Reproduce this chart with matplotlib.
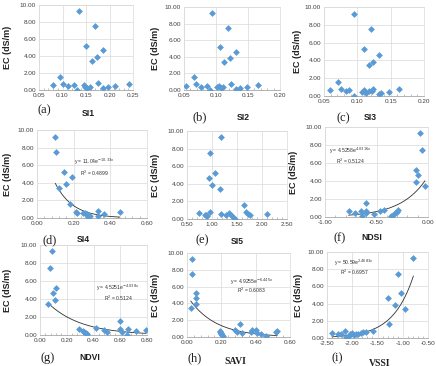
import numpy as np
import matplotlib
matplotlib.use("Agg")
import matplotlib.pyplot as plt
from matplotlib.ticker import FormatStrFormatter, MultipleLocator, AutoMinorLocator

plt.rcParams['axes.unicode_minus'] = False
plt.rcParams['font.family'] = ['Liberation Sans', 'DejaVu Sans']

# ---------------- data ----------------
si1_x = [0.135, 0.170, 0.150, 0.187, 0.174, 0.162, 0.0945, 0.079, 0.101, 0.112, 0.124,
         0.131, 0.146, 0.147, 0.152, 0.158, 0.176, 0.187, 0.197, 0.212, 0.241]
si1_y = [9.3, 7.5, 5.2, 4.67, 3.84, 3.45, 1.57, 0.59, 0.7, 0.43, 0.59,
         0.04, 0.59, 0.31, 0.24, 0.39, 0.82, 0.2, 0.31, 0.43, 0.7]

si2_x = [0.094, 0.118, 0.1055, 0.131, 0.122, 0.113, 0.065, 0.053, 0.069, 0.077, 0.086,
         0.091, 0.102, 0.104, 0.108, 0.111, 0.123, 0.131, 0.138, 0.148, 0.166]
si2_y = [9.28, 7.48, 5.2, 4.6, 3.8, 3.4, 1.52, 0.52, 0.68, 0.32, 0.48,
         0.0, 0.32, 0.52, 0.2, 0.4, 0.72, 0.12, 0.24, 0.32, 0.6]

si3_x = [0.095, 0.120, 0.110, 0.133, 0.124, 0.117, 0.071, 0.059, 0.075, 0.083, 0.088,
         0.095, 0.107, 0.110, 0.113, 0.118, 0.124, 0.122, 0.133, 0.136, 0.147, 0.163]
si3_y = [9.25, 7.52, 5.26, 4.62, 3.83, 3.46, 1.62, 0.68, 0.79, 0.53, 0.68,
         0.04, 0.49, 0.64, 0.3, 0.56, 0.83, 0.56, 0.23, 0.34, 0.45, 0.75]

si4_x = [0.10, 0.104, 0.146, 0.19, 0.16, 0.122, 0.179, 0.21, 0.217, 0.251, 0.27,
         0.26, 0.288, 0.275, 0.28, 0.33, 0.335, 0.364, 0.452]
si4_y = [9.25, 7.5, 5.2, 4.64, 3.85, 3.4, 1.58, 0.71, 0.57, 0.57, 0.45,
         0.55, 0.26, 0.35, 0.08, 0.26, 0.79, 0.45, 0.68]

si5_x = [1.17, 0.95, 1.05, 0.93, 1.0, 1.15, 1.63, 0.74, 0.86, 0.90, 0.88, 0.96,
         1.17, 1.27, 1.33, 1.38, 1.42, 1.46, 1.67, 1.72, 1.75, 2.10]
si5_y = [9.3, 7.5, 5.26, 4.62, 3.87, 3.42, 1.58, 0.68, 0.49, 0.3, 0.4, 0.79,
         0.6, 0.41, 0.68, 0.41, 0.18, 0.02, 0.79, 0.6, 0.41, 0.6]

ndsi_x = [-0.08, -0.06, -0.12, -0.10, -0.12, -0.03, -0.60, -0.77, -0.71, -0.655, -0.64,
          -0.60, -0.60, -0.52, -0.47, -0.43, -0.355, -0.34, -0.32, -0.30, -0.29]
ndsi_y = [9.3, 7.5, 5.26, 4.62, 3.87, 3.42, 1.58, 0.62, 0.44, 0.7, 0.07,
          0.5, 0.65, 0.3, 0.62, 0.8, 0.15, 0.26, 0.4, 0.55, 0.73]

ndvi_x = [0.092, 0.075, 0.12, 0.10, 0.115, 0.062, 0.60, 0.29, 0.32, 0.33, 0.345,
          0.35, 0.42, 0.48, 0.50, 0.60, 0.61, 0.65, 0.66, 0.72, 0.79]
ndvi_y = [9.3, 7.5, 5.26, 4.62, 3.87, 3.42, 1.58, 0.65, 0.5, 0.35, 0.2,
          0.12, 0.8, 0.55, 0.3, 0.65, 0.3, 0.05, 0.7, 0.45, 0.55]

savi_x = [0.031, 0.031, 0.055, 0.055, 0.055, 0.022, 0.31, 0.19, 0.195, 0.20, 0.205,
          0.21, 0.20, 0.28, 0.29, 0.32, 0.37, 0.38, 0.40, 0.41, 0.43, 0.46, 0.52, 0.525]
savi_y = [9.3, 7.5, 5.26, 4.62, 3.87, 3.42, 1.58, 0.75, 0.55, 0.35, 0.2,
          0.1, 0.45, 0.87, 0.65, 0.48, 0.56, 0.79, 0.87, 0.45, 0.3, 0.08, 0.55, 0.7]

vssi_x = [-0.79, -1.10, -1.03, -1.29, -1.16, -0.955, -1.28, -1.58, -2.40, -2.28, -2.22,
          -2.15, -2.12, -2.06, -2.04, -2.00, -1.97, -1.92, -1.88, -1.83, -1.78, -1.72]
vssi_y = [9.3, 7.5, 5.26, 4.62, 3.87, 3.42, 1.58, 0.8, 0.62, 0.43, 0.5,
          0.85, 0.08, 0.19, 0.43, 0.58, 0.31, 0.47, 0.5, 0.58, 0.66, 0.66]

x_names = ["SI1", "SI2", "SI3", "SI4", "SI5", "NDSI", "NDVI", "SAVI", "VSSI"]
letters = ["(a)", "(b)", "(c)", "(d)", "(e)", "(f)", "(g)", "(h)", "(i)"]
x_limits = [(0.05, 0.25), (0.05, 0.20), (0.05, 0.20), (0.0, 0.6), (0.5, 2.5),
            (-1.0, 0.0), (0.0, 0.8), (0.0, 0.6), (-2.5, -0.5)]
x_steps = [0.05, 0.05, 0.05, 0.2, 0.5, 0.5, 0.2, 0.2, 0.5]

# exponential trend lines: y = a*exp(b*x)
fit_a = {3: 11.04, 5: 4.5258, 6: 4.5251, 7: 4.9255, 8: 50.59}
fit_b = {3: -10.33, 5: 4.0316, 6: -4.038, 7: -6.445, 8: 2.4683}
eq_text = {3: "y = 11.04e$^{-10.33x}$", 5: "y = 4.5258e$^{4.0316x}$",
           6: "y = 4.5251e$^{-4.038x}$", 7: "y = 4.9255e$^{-6.445x}$",
           8: "y = 50.59e$^{2.4683x}$"}
r2_text = {3: "R$^2$ = 0.4899", 5: "R$^2$ = 0.5124", 6: "R$^2$ = 0.5124",
           7: "R$^2$ = 0.6083", 8: "R$^2$ = 0.6957"}

xs = [si1_x, si2_x, si3_x, si4_x, si5_x, ndsi_x, ndvi_x, savi_x, vssi_x]
ys = [si1_y, si2_y, si3_y, si4_y, si5_y, ndsi_y, ndvi_y, savi_y, vssi_y]

# ---------------- layout (pixel boxes) ----------------
W, H = 436, 366
boxes = [(39, 5, 133, 90), (184, 7, 280, 90), (324, 7, 424, 96),
         (37, 130, 147, 218), (187, 131, 287, 219), (325, 127, 428, 217),
         (40, 245, 147, 335), (187, 253, 290, 337), (327, 252, 428, 338)]
ylab_x = [8, 155, 297, 8, 155, 293, 8, 155, 298]
letter_pos = [(44, 110), (200, 117), (343, 118), (50, 240), (202, 240), (340, 238),
              (48, 358), (195, 358), (337, 358)]
xlab_pos = [(88, 113), (243, 117), (370, 117), (83, 240), (237, 242), (372, 238),
            (90, 358), (235, 362), (380, 363)]
eq_pos = {3: (0.52, 0.64, 0.51), 5: (0.25, 0.73, 0.62), 6: (0.73, 0.52, 0.41),
          7: (0.63, 0.66, 0.55), 8: (0.27, 0.87, 0.76)}

fig = plt.figure(figsize=(W / 100, H / 100), dpi=100)
fig.patch.set_facecolor('white')

blue = '#5B9BD5'
for i in range(9):
    l, t, r, b = boxes[i]
    ax = fig.add_axes([l / W, 1 - b / H, (r - l) / W, (b - t) / H])
    ax.scatter(xs[i], ys[i], marker='D', s=12, color=blue, linewidths=0, zorder=3)
    if i in fit_a:
        xx = np.linspace(min(xs[i]), max(xs[i]), 200)
        ax.plot(xx, fit_a[i] * np.exp(fit_b[i] * xx), color='#303030', lw=0.6, zorder=2)
        ex, ey1, ey2 = eq_pos[i]
        ax.text(ex, ey1, eq_text[i], transform=ax.transAxes, fontsize=3.6,
                ha='center', va='center', color='#303030', zorder=4)
        ax.text(ex, ey2, r2_text[i], transform=ax.transAxes, fontsize=3.6,
                ha='center', va='center', color='#303030', zorder=4)
    x0, x1 = x_limits[i]
    ax.set_xlim(x0, x1)
    ax.set_ylim(0, 10)
    ax.xaxis.set_major_locator(MultipleLocator(x_steps[i]))
    ax.yaxis.set_major_locator(MultipleLocator(2))
    ax.xaxis.set_minor_locator(AutoMinorLocator(5))
    ax.xaxis.set_major_formatter(FormatStrFormatter('%.2f'))
    ax.yaxis.set_major_formatter(FormatStrFormatter('%.2f'))
    ax.grid(True, which='major', color='#d9d9d9', lw=0.5, zorder=0)
    ax.set_axisbelow(True)
    for s in ['top', 'right', 'left']:
        ax.spines[s].set_color('#d9d9d9')
        ax.spines[s].set_linewidth(0.5)
    ax.spines['bottom'].set_color('#a6a6a6')
    ax.spines['bottom'].set_linewidth(0.6)
    ax.tick_params(axis='both', which='major', length=0, labelsize=4.6,
                   labelcolor='#404040', pad=2)
    ax.tick_params(axis='x', which='minor', length=1.5, direction='in',
                   color='#a6a6a6', width=0.5)
    ax.tick_params(axis='y', which='minor', length=0)

    # labels
    cy = 1 - ((t + b) / 2) / H
    fig.text(ylab_x[i] / W, cy, "EC (dS/m)", rotation=90, ha='center', va='center',
             fontsize=6.5, fontweight='bold', color='#202020')
    lx, ly = letter_pos[i]
    fig.text(lx / W, 1 - ly / H, letters[i], ha='center', va='center',
             fontsize=9, family=['Liberation Serif', 'DejaVu Serif'], color='#202020')
    xx_, xy_ = xlab_pos[i]
    if x_names[i] in ("SAVI", "VSSI"):
        fam = ['Liberation Serif', 'DejaVu Serif']
        fs = 7
    else:
        fam = ['Liberation Sans', 'DejaVu Sans']
        fs = 6.2
    fig.text(xx_ / W, 1 - xy_ / H, x_names[i], ha='center', va='center',
             fontsize=fs, fontweight='bold', family=fam, color='#202020')

fig.savefig("out.png", dpi=100, facecolor='white')
